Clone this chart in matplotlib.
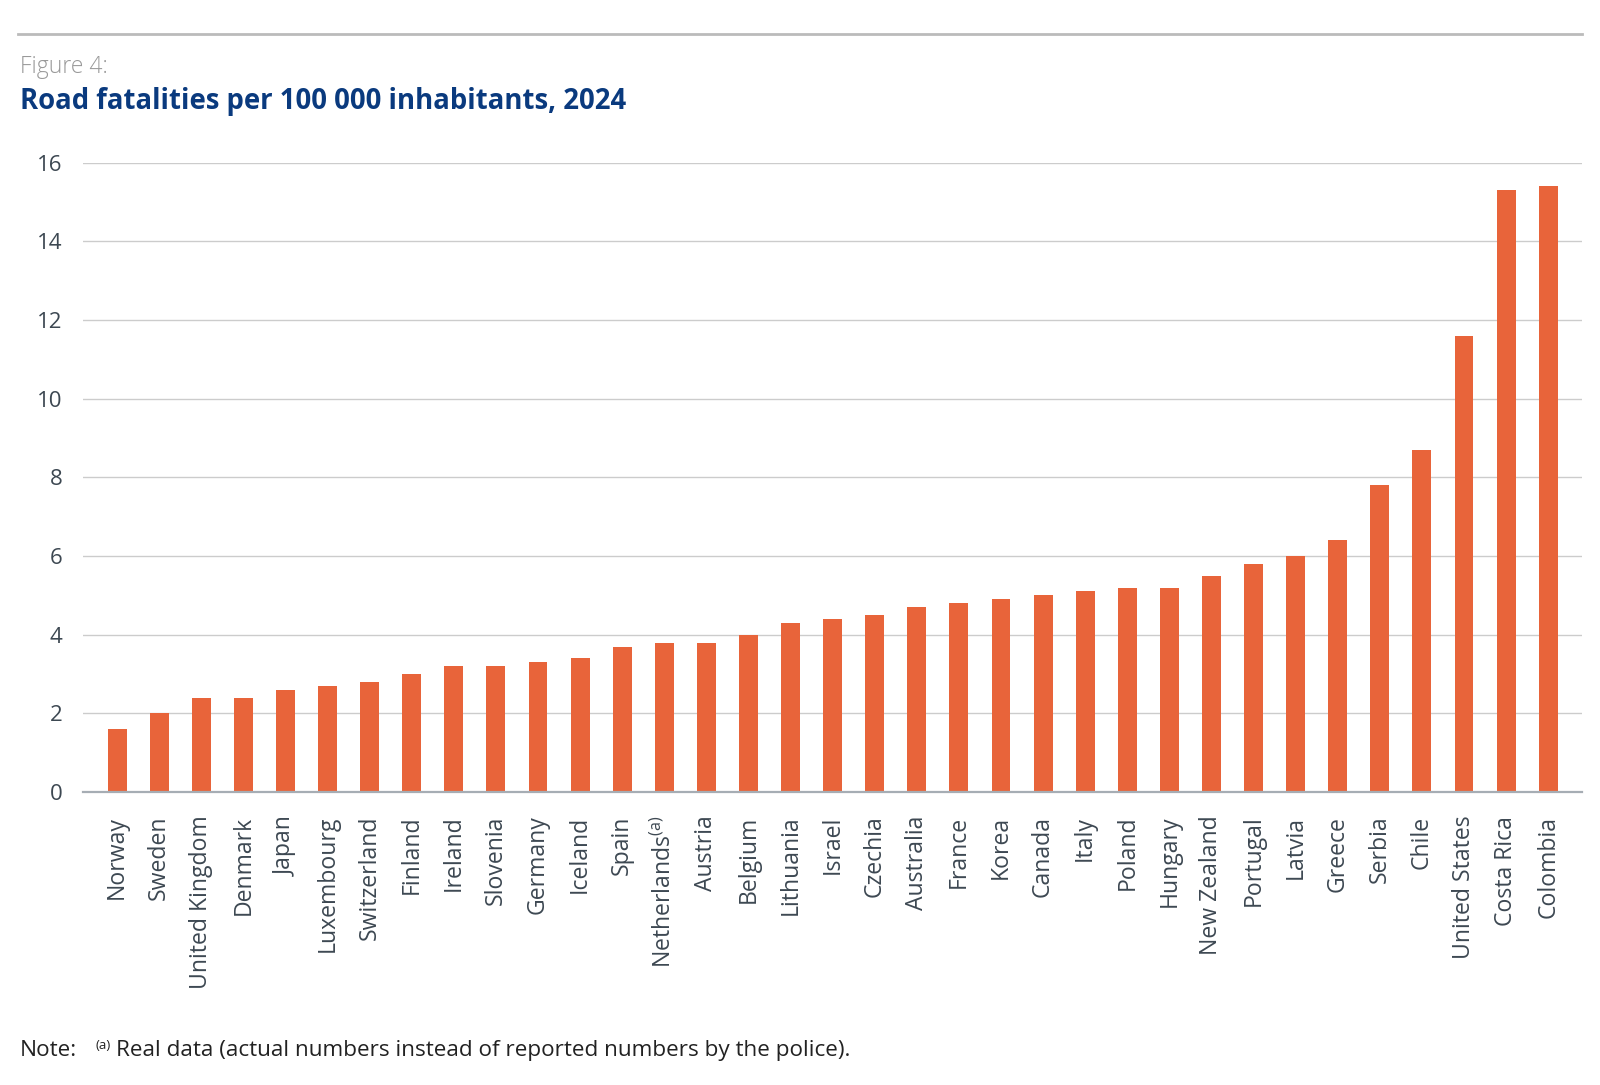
import matplotlib
matplotlib.use("Agg")
import matplotlib.pyplot as plt

plt.rcParams['font.family'] = ['Open Sans', 'DejaVu Sans']
plt.rcParams['mathtext.fontset'] = 'custom'
plt.rcParams['mathtext.rm'] = 'Open Sans'

# Data
countries = ["Norway", "Sweden", "United Kingdom", "Denmark", "Japan", "Luxembourg",
             "Switzerland", "Finland", "Ireland", "Slovenia", "Germany", "Iceland",
             "Spain", "Netherlands$^{\\rm (a)}$", "Austria", "Belgium", "Lithuania",
             "Israel", "Czechia", "Australia", "France", "Korea", "Canada", "Italy",
             "Poland", "Hungary", "New Zealand", "Portugal", "Latvia", "Greece",
             "Serbia", "Chile", "United States", "Costa Rica", "Colombia"]
fatalities = [1.6, 2.0, 2.4, 2.4, 2.6, 2.7, 2.8, 3.0, 3.2, 3.2, 3.3, 3.4,
              3.7, 3.8, 3.8, 4.0, 4.3, 4.4, 4.5, 4.7, 4.8, 4.9, 5.0, 5.1,
              5.2, 5.2, 5.5, 5.8, 6.0, 6.4, 7.8, 8.7, 11.6, 15.3, 15.4]
yticks = [0, 2, 4, 6, 8, 10, 12, 14, 16]

text_col = "#3d4852"
bar_col = "#e8643a"

fig = plt.figure(figsize=(16, 10.85), dpi=100)
ax = fig.add_axes([0.0519, 0.270, 0.937, 0.580])

x = range(len(countries))
ax.bar(x, fatalities, width=0.45, color=bar_col, zorder=3)

ax.set_xlim(-0.81, len(countries) - 1 + 0.81)
ax.set_ylim(0, 16)
ax.set_yticks(yticks)
ax.set_yticklabels([str(v) for v in yticks])
ax.set_xticks(list(x))
ax.set_xticklabels(countries, rotation=90, va="top", ha="center")

ax.grid(axis="y", color="#cccccc", linewidth=1.0, zorder=0)
for side in ["top", "right", "left"]:
    ax.spines[side].set_visible(False)
ax.spines["bottom"].set_color("#a6adb4")
ax.spines["bottom"].set_linewidth(1.6)
ax.spines["bottom"].set_zorder(4)

ax.tick_params(axis="both", length=0, colors=text_col)
ax.tick_params(axis="x", pad=17, labelsize=16.6)
ax.tick_params(axis="y", pad=15, labelsize=16)

# Header
fig.add_artist(plt.Line2D([0.011, 0.989], [0.9687, 0.9687], color="#bbbbbb",
                          linewidth=2, transform=fig.transFigure))
fig.text(0.0125, 0.938, "Figure 4:", fontsize=16.5, color="#999999",
         fontweight="light", va="center", ha="left")
fig.text(0.0125, 0.906, "Road fatalities per 100 000 inhabitants, 2024", fontsize=19.8,
         color="#0a3a7e", fontweight="bold", va="center", ha="left")

# Note
fig.text(0.0125, 0.032, "Note:", fontsize=16.2, color="#222222", va="center", ha="left")
fig.text(0.0600, 0.036, "(a)", fontsize=9.5, color="#222222", va="center", ha="left")
fig.text(0.0725, 0.032, "Real data (actual numbers instead of reported numbers by the police).",
         fontsize=16.2, color="#222222", va="center", ha="left")

fig.savefig("out.png", dpi=100)
plt.close(fig)
